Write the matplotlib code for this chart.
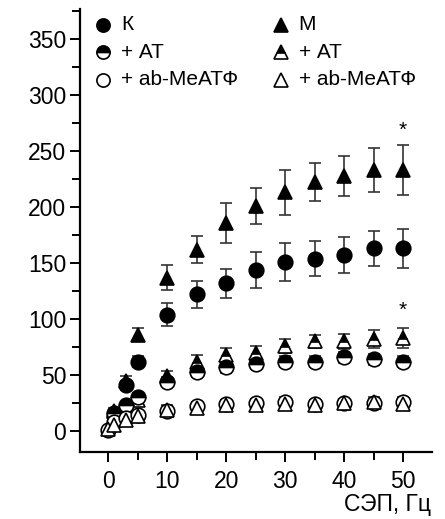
import numpy as np
import matplotlib
matplotlib.use("Agg")
import matplotlib.pyplot as plt
from matplotlib.ticker import MultipleLocator

plt.rcParams['font.family'] = ['Liberation Sans', 'DejaVu Sans']

# === Data ===
freq = [1, 3, 5, 10, 15, 20, 25, 30, 35, 40, 45, 50]
freq0 = [0, 1, 3, 5, 10, 15, 20, 25, 30, 35, 40, 45, 50]

k_ctrl = [13, 41, 62, 104, 122, 132, 144, 151, 154, 157, 163, 163]
k_ctrl_err = [3, 4, 5, 10, 12, 13, 16, 17, 16, 16, 16, 17]
k_at = [16, 23, 30, 44, 53, 57, 60, 62, 62, 66, 64, 62]
k_at_err = [3, 3, 4, 4, 5, 5, 5, 5, 5, 5, 5, 5]
k_me = [1, 8, 12, 14, 18, 22, 24, 25, 26, 24, 25, 25, 26]
k_me_err = [1, 2, 3, 3, 4, 4, 4, 4, 4, 4, 4, 4, 4]

m_ctrl = [18, 45, 86, 137, 162, 186, 201, 213, 222, 228, 233, 233]
m_ctrl_err = [3, 4, 6, 11, 12, 18, 16, 20, 17, 18, 20, 22]
m_at = [10, 19, 28, 49, 62, 68, 70, 76, 80, 80, 82, 83]
m_at_err = [3, 3, 4, 5, 6, 6, 6, 6, 6, 7, 8, 9]
m_me = [2, 5, 10, 13, 19, 21, 23, 23, 24, 23, 25, 26, 24]
m_me_err = [1, 2, 3, 3, 4, 4, 4, 4, 4, 4, 4, 4, 4]

star_x = [50, 50]
star_y = [260, 99]

fig = plt.figure(figsize=(4.45, 5.19), dpi=100)
ax = fig.add_axes([0.18, 0.129, 0.791, 0.854])

ms = 10.5
common = dict(color='black', ecolor='#333333', elinewidth=1.2, capsize=4, capthick=1.2,
              linestyle='none', markeredgecolor='black', markeredgewidth=1.2, markersize=ms)

ax.errorbar(freq, m_ctrl, yerr=m_ctrl_err, marker='^', markerfacecolor='black', **common)
ax.errorbar(freq, k_ctrl, yerr=k_ctrl_err, marker='o', markerfacecolor='black', **common)
ax.errorbar(freq, m_at, yerr=m_at_err, marker='^', markerfacecolor='black', fillstyle='top',
            markerfacecoloralt='white', **common)
ax.errorbar(freq, k_at, yerr=k_at_err, marker='o', markerfacecolor='black', fillstyle='top',
            markerfacecoloralt='white', **common)
ax.errorbar(freq0, k_me, yerr=k_me_err, marker='o', markerfacecolor='white', **common)
ax.errorbar(freq0, m_me, yerr=m_me_err, marker='^', markerfacecolor='white', **common)

for x, y in zip(star_x, star_y):
    ax.text(x, y, '*', ha='center', va='bottom', fontsize=15)

# legend drawn by hand, two columns
leg_rows = [("o", "black", "full", "К"), ("o", "black", "top", "+ АТ"), ("o", "white", "full", "+ ab-MeАТФ")]
leg_rows2 = [("^", "black", "full", "М"), ("^", "black", "top", "+ АТ"), ("^", "white", "full", "+ ab-MeАТФ")]
for col, rows in enumerate([leg_rows, leg_rows2]):
    for i, (mk, fc, fs, lab) in enumerate(rows):
        xm = 0.066 + col * 0.505
        ym = 0.964 - i * 0.062
        ax.plot([xm], [ym], marker=mk, markersize=9.5, markerfacecolor=fc, fillstyle=fs,
                markerfacecoloralt='white', markeredgecolor='black', markeredgewidth=1.2,
                linestyle='none', transform=ax.transAxes, clip_on=False)
        ax.text(xm + 0.05, ym, lab, transform=ax.transAxes, ha='left', va='center', fontsize=15)

ax.set_xlim(-4.75, 54.9)
ax.set_ylim(-18.75, 377)
ax.xaxis.set_major_locator(MultipleLocator(10))
ax.xaxis.set_minor_locator(MultipleLocator(5))
ax.yaxis.set_major_locator(MultipleLocator(50))
ax.yaxis.set_minor_locator(MultipleLocator(25))
ax.set_xticks(range(0, 51, 10))
ax.set_yticks(range(0, 351, 50))

for s in ['top', 'right']:
    ax.spines[s].set_visible(False)
for s in ['left', 'bottom']:
    ax.spines[s].set_linewidth(1.6)
ax.tick_params(which='major', direction='out', length=7, width=1.4, labelsize=16.5)
ax.tick_params(axis='x', which='major', pad=6)
ax.tick_params(axis='y', which='major', pad=3)
ax.tick_params(which='minor', direction='out', length=6, width=1.4)

fig.text(0.968, 0.006, 'СЭП, Гц', ha='right', va='bottom', fontsize=16.5)

fig.savefig('out.png', dpi=100)
